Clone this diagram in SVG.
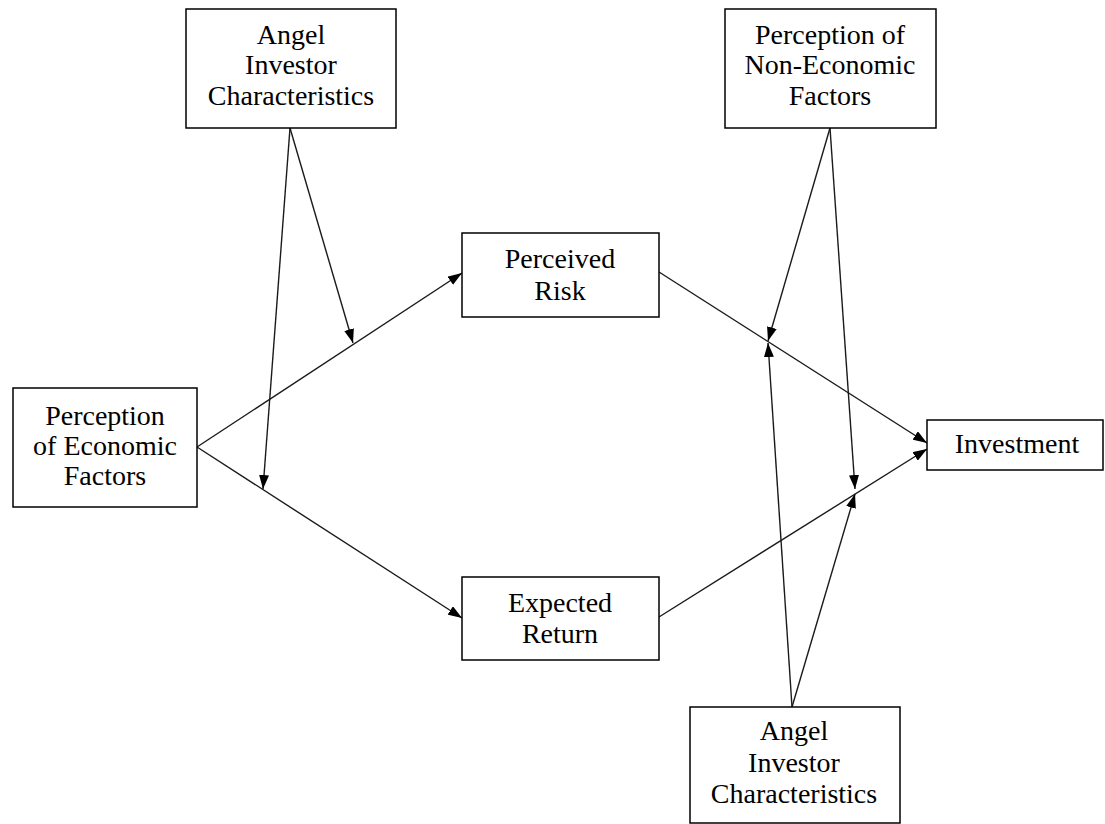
<svg xmlns="http://www.w3.org/2000/svg" width="1105" height="824" viewBox="0 0 1105 824">
  <style>
    .box { fill: #ffffff; stroke: #000000; stroke-width: 1.5; }
    .lbl { font-family: 'Liberation Serif', 'Times New Roman', serif; font-size: 28px; fill: #000000; text-anchor: middle; }
    .edge { fill: none; stroke: #1a1a1a; stroke-width: 1.4; marker-end: url(#arrow); }
  </style>
  <defs>
    <marker id="arrow" viewBox="0 0 14 10" refX="14" refY="5" markerWidth="14" markerHeight="10" markerUnits="userSpaceOnUse" orient="auto">
      <path d="M0,0 L14,5 L0,10 Z" fill="#000000"/>
    </marker>
  </defs>
  <rect width="1105" height="824" fill="#ffffff"/>

  <g id="connectors">
    <!-- economic factors to mediators -->
    <line class="edge" x1="197" y1="447" x2="462" y2="273"/>
    <line class="edge" x1="197" y1="447" x2="462" y2="618"/>
    <!-- moderation by investor characteristics (top) -->
    <line class="edge" x1="290" y1="128" x2="353" y2="343"/>
    <line class="edge" x1="290" y1="128" x2="263" y2="489"/>
    <!-- mediators to investment -->
    <line class="edge" x1="659" y1="272" x2="927" y2="443"/>
    <line class="edge" x1="659" y1="617" x2="927" y2="449"/>
    <!-- moderation by non-economic factors -->
    <line class="edge" x1="830" y1="128" x2="768" y2="341"/>
    <line class="edge" x1="830" y1="128" x2="855" y2="489"/>
    <!-- moderation by investor characteristics (bottom) -->
    <line class="edge" x1="792" y1="707" x2="768" y2="343"/>
    <line class="edge" x1="792" y1="707" x2="855" y2="494"/>
  </g>

  <g id="angel-top">
    <rect class="box" x="186" y="9" width="210" height="119"/>
    <text class="lbl" x="291" y="44">Angel</text>
    <text class="lbl" x="291" y="74">Investor</text>
    <text class="lbl" x="291" y="105">Characteristics</text>
  </g>

  <g id="non-economic">
    <rect class="box" x="725" y="9" width="211" height="119"/>
    <text class="lbl" x="830" y="44">Perception of</text>
    <text class="lbl" x="830" y="74">Non-Economic</text>
    <text class="lbl" x="830" y="105">Factors</text>
  </g>

  <g id="economic">
    <rect class="box" x="13" y="388" width="184" height="119"/>
    <text class="lbl" x="105" y="425">Perception</text>
    <text class="lbl" x="105" y="455">of Economic</text>
    <text class="lbl" x="105" y="485">Factors</text>
  </g>

  <g id="perceived-risk">
    <rect class="box" x="462" y="233" width="197" height="84"/>
    <text class="lbl" x="560" y="268">Perceived</text>
    <text class="lbl" x="560" y="300">Risk</text>
  </g>

  <g id="expected-return">
    <rect class="box" x="462" y="577" width="197" height="83"/>
    <text class="lbl" x="560" y="612">Expected</text>
    <text class="lbl" x="560" y="643">Return</text>
  </g>

  <g id="investment">
    <rect class="box" x="927" y="420" width="176" height="50"/>
    <text class="lbl" x="1017" y="453">Investment</text>
  </g>

  <g id="angel-bottom">
    <rect class="box" x="690" y="707" width="210" height="116"/>
    <text class="lbl" x="794" y="740">Angel</text>
    <text class="lbl" x="794" y="772">Investor</text>
    <text class="lbl" x="794" y="803">Characteristics</text>
  </g>
</svg>
